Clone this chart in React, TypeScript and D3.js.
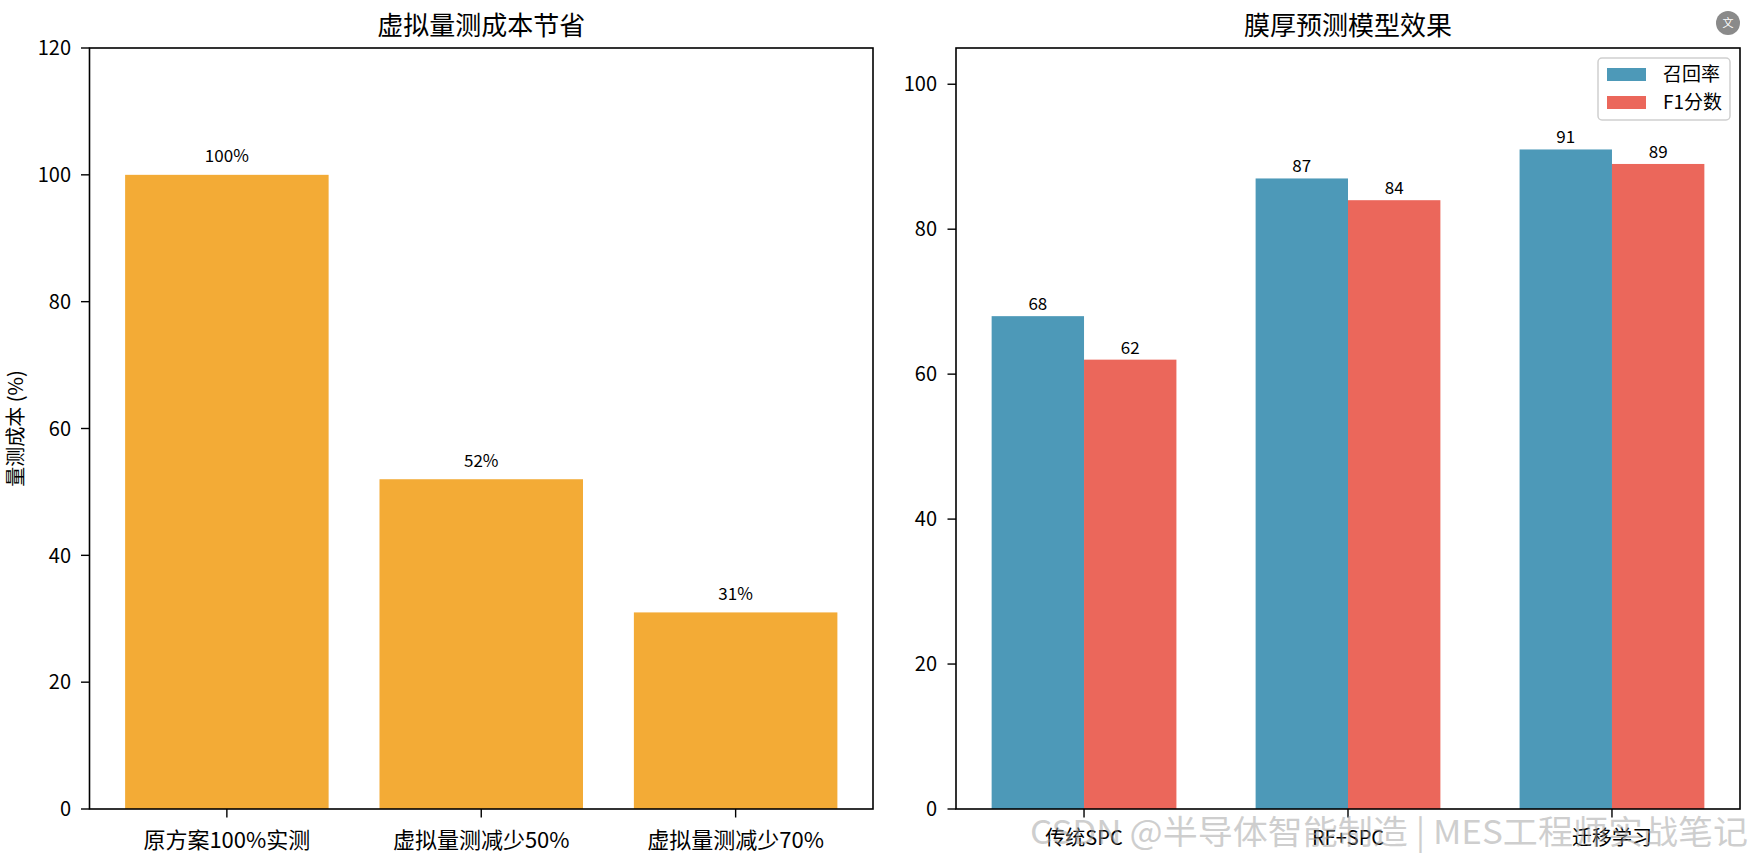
import { useEffect } from 'react'
import * as d3 from 'd3'

const costCategories = ['原方案100%实测', '虚拟量测减少50%', '虚拟量测减少70%']
const costValues = [100, 52, 31]
const costTicks = [0, 20, 40, 60, 80, 100, 120]

const modelCategories = ['传统SPC', 'RF+SPC', '迁移学习']
const recallValues = [68, 87, 91]
const f1Values = [62, 84, 89]
const modelTicks = [0, 20, 40, 60, 80, 100]
const seriesNames = ['召回率', 'F1分数']

const W = 1753
const H = 861
const FONT = '"Noto Sans CJK SC", "Noto Sans", sans-serif'
const ORANGE = '#F3AB36'
const BLUE = '#4D99B8'
const RED = '#EB675B'

const top = 48
const bottom = 809

const App = () => {
  useEffect(() => {
    document.body.style.margin = '0'
  }, [])

  // left panel scales
  const x1 = d3.scaleLinear().domain([-0.54, 2.54]).range([89.5, 873])
  const y1 = d3.scaleLinear().domain([0, 120]).range([bottom, top])

  // right panel scales
  const x2 = d3.scaleLinear().domain([-0.485, 2.485]).range([956, 1740])
  const y2 = d3.scaleLinear().domain([0, 105]).range([bottom, top])
  const bw = 0.35

  return (
    <svg width={W} height={H} style={{ position: 'fixed', left: 0, top: 0, background: '#fff' }} fontFamily={FONT}>
      {/* ---- left: cost savings ---- */}
      <text x={(89.5 + 873) / 2} y={35} textAnchor="middle" fontSize={26}>虚拟量测成本节省</text>
      {costValues.map((v, i) => (
        <g key={i}>
          <rect x={x1(i - 0.4)} y={y1(v)} width={x1(i + 0.4) - x1(i - 0.4)} height={y1(0) - y1(v)} fill={ORANGE} />
          <text x={x1(i)} y={y1(v + 2)} textAnchor="middle" fontSize={17}>{v}%</text>
        </g>
      ))}
      <rect x={89.5} y={top} width={873 - 89.5} height={bottom - top} fill="none" stroke="#000" strokeWidth={1.6} />
      {costTicks.map((t) => (
        <g key={t}>
          <line x1={81} x2={89.5} y1={y1(t)} y2={y1(t)} stroke="#000" strokeWidth={1.4} />
          <text x={71} y={y1(t)} dy="0.36em" textAnchor="end" fontSize={20}>{t}</text>
        </g>
      ))}
      {costCategories.map((c, i) => (
        <g key={c}>
          <line x1={x1(i)} x2={x1(i)} y1={bottom} y2={bottom + 8.5} stroke="#000" strokeWidth={1.4} />
          <text x={x1(i)} y={848} textAnchor="middle" fontSize={22}>{c}</text>
        </g>
      ))}
      <text transform={`translate(23,${(top + bottom) / 2}) rotate(-90)`} textAnchor="middle" fontSize={20}>量测成本 (%)</text>

      {/* ---- right: model results ---- */}
      <text x={(956 + 1740) / 2} y={35} textAnchor="middle" fontSize={26}>膜厚预测模型效果</text>
      {modelCategories.map((c, i) => (
        <g key={c}>
          <rect x={x2(i - bw)} y={y2(recallValues[i])} width={x2(i) - x2(i - bw)} height={y2(0) - y2(recallValues[i])} fill={BLUE} />
          <rect x={x2(i)} y={y2(f1Values[i])} width={x2(i + bw) - x2(i)} height={y2(0) - y2(f1Values[i])} fill={RED} />
          <text x={x2(i - bw / 2)} y={y2(recallValues[i]) - 6} textAnchor="middle" fontSize={17}>{recallValues[i]}</text>
          <text x={x2(i + bw / 2)} y={y2(f1Values[i]) - 6} textAnchor="middle" fontSize={17}>{f1Values[i]}</text>
        </g>
      ))}
      <rect x={956} y={top} width={1740 - 956} height={bottom - top} fill="none" stroke="#000" strokeWidth={1.6} />
      {modelTicks.map((t) => (
        <g key={t}>
          <line x1={947.5} x2={956} y1={y2(t)} y2={y2(t)} stroke="#000" strokeWidth={1.4} />
          <text x={937} y={y2(t)} dy="0.36em" textAnchor="end" fontSize={20}>{t}</text>
        </g>
      ))}
      {modelCategories.map((c, i) => (
        <g key={c}>
          <line x1={x2(i)} x2={x2(i)} y1={bottom} y2={bottom + 8.5} stroke="#000" strokeWidth={1.4} />
          <text x={x2(i)} y={845} textAnchor="middle" fontSize={20}>{c}</text>
        </g>
      ))}

      {/* legend */}
      <rect x={1598} y={58} width={132} height={62} rx={4} fill="#fff" fillOpacity={0.8} stroke="#cfcfcf" strokeWidth={1.5} />
      {seriesNames.map((s, i) => (
        <g key={s}>
          <rect x={1607} y={68 + i * 28} width={39} height={13} fill={i === 0 ? BLUE : RED} />
          <text x={1663} y={74.5 + i * 28} dy="0.36em" fontSize={19}>{s}</text>
        </g>
      ))}

      {/* page overlays from the screenshot */}
      <circle cx={1728} cy={23} r={12} fill="#8a8a8a" />
      <text x={1728} y={23} dy="0.36em" textAnchor="middle" fontSize={11} fill="#fff">文</text>
      <text x={1030} y={844} fontSize={33} textLength={718} lengthAdjust="spacingAndGlyphs" fill="#9e9e9e" fillOpacity={0.5}>CSDN @半导体智能制造 | MES工程师实战笔记</text>
    </svg>
  )
}

export default App
